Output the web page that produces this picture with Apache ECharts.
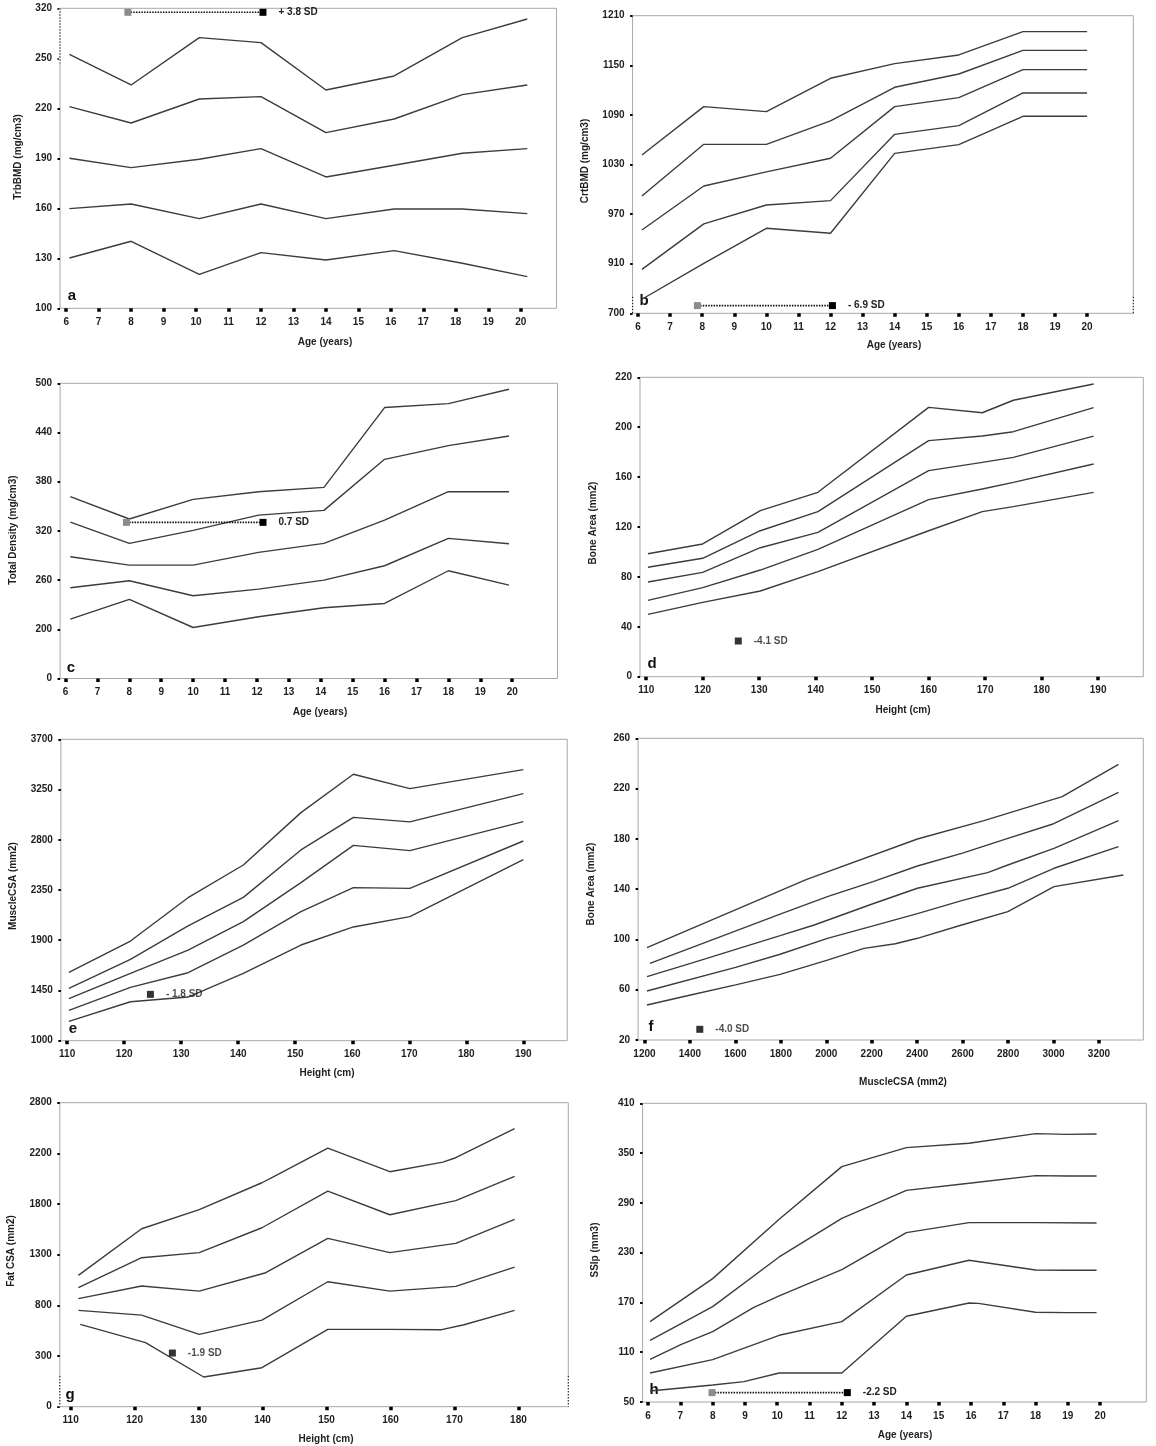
<!DOCTYPE html>
<html><head><meta charset="utf-8">
<script src="https://cdn.jsdelivr.net/npm/echarts@6/dist/echarts.min.js"></script>
<style>html,body{margin:0;padding:0;background:#fff}#c{width:1156px;height:1446px}</style>
</head><body><div id="c"></div>
<script>
// ---------- tick values / labels ----------
const ageTicks = [6,7,8,9,10,11,12,13,14,15,16,17,18,19,20];
const heightTicksDE = [110,120,130,140,150,160,170,180,190];
const heightTicksG = [110,120,130,140,150,160,170,180];
const muscleTicks = [1200,1400,1600,1800,2000,2200,2400,2600,2800,3000,3200];

const aYTicks = [100,130,160,190,220,250,280];
const aYLabels = ['100','130','160','190','220','250','320'];
const bYTicks = [850,910,970,1030,1090,1150,1210];
const bYLabels = ['700','910','970','1030','1090','1150','1210'];
const cYTicks = [140,200,260,320,380,440,500];
const cYLabels = ['0','200','260','320','380','440','500'];
const dYTicks = [0,40,80,120,160,200,240];
const dYLabels = ['0','40','80','120','160','200','220'];
const eYTicks = [1000,1450,1900,2350,2800,3250,3700];
const eYLabels = ['1000','1450','1900','2350','2800','3250','3700'];
const fYTicks = [20,60,100,140,180,220,260];
const fYLabels = ['20','60','100','140','180','220','260'];
const gYTicks = [-200,300,800,1300,1800,2300,2800];
const gYLabels = ['0','300','800','1300','1800','2200','2800'];
const hYTicks = [50,110,170,230,290,350,410];
const hYLabels = ['50','110','170','230','290','350','410'];

// ---------- panel a : TrbBMD vs age ----------
const aX  = [6.1, 8.0, 10.1, 12.0, 14.0, 16.1, 18.2, 20.2];
const aC1 = [252.4, 234, 262.4, 259.4, 231, 239.4, 262.4, 273.6];
const aC2 = [221, 211.2, 225.6, 227, 205.4, 213.6, 228.2, 234];
const aC3 = [190, 184.4, 189.4, 195.8, 178.8, 185.8, 193, 195.8];
const aC4 = [159.8, 162.6, 153.8, 162.6, 153.8, 159.6, 159.6, 156.8];
const aC5 = [130.2, 140.2, 120.4, 133.4, 129, 134.6, 127, 119];
const aSD = [[7.9, 277.6], [12.06, 277.6]];
const aSDText = '+ 3.8 SD';

// ---------- panel b : CrtBMD vs age ----------
const bX  = [6.12, 8.05, 10.0, 12.0, 14.0, 16.0, 18.0, 20.0];
const bC1 = [1041.5, 1100, 1094, 1134.3, 1152, 1162.5, 1190.7, 1190.7];
const bC2 = [991.9, 1054.4, 1054.4, 1082.7, 1123.4, 1139.5, 1168.1, 1168.1];
const bC3 = [950.8, 1004, 1021, 1037.5, 1100, 1110.9, 1144.8, 1144.8];
const bC4 = [903.2, 958.1, 981, 986.3, 1066.5, 1077, 1116.5, 1116.5];
const bC5 = [867, 910.5, 952.8, 946.8, 1043.5, 1054, 1088.3, 1088.3];
const bSD = [[7.85, 859.3], [12.06, 859.3]];
const bSDText = '- 6.9 SD';

// ---------- panel c : total density vs age ----------
const cX  = [6.15, 8.0, 10.0, 12.05, 14.1, 16.0, 18.0, 19.9];
const cC1 = [361.7, 334.5, 358.5, 367.8, 373.1, 470.4, 475.2, 492.7];
const cC2 = [330.8, 304.8, 320.6, 339.3, 345, 407.3, 424, 435.8];
const cC3 = [288.5, 278.3, 278.3, 293.8, 304.8, 333.2, 367.8, 367.8];
const cC4 = [250.7, 259.2, 240.9, 249, 260, 277.5, 310.9, 304.4];
const cC5 = [212.4, 236.4, 202.2, 215.3, 226.2, 231.5, 271.4, 253.9];
const cSD = [[7.91, 330.4], [12.19, 330.4]];
const cSDText = '0.7 SD';

// ---------- panel d : bone area vs height ----------
const dX  = [110.3, 120.0, 130.2, 140.4, 160.0, 169.5, 175.0, 189.2];
const dC1 = [98.6, 106.4, 133.1, 147.8, 215.9, 211.6, 221.6, 234.6];
const dC2 = [87.7, 94.9, 117, 132.3, 189.2, 192.9, 196.4, 215.7];
const dC3 = [75.9, 83.6, 103.4, 115.7, 165.2, 171.8, 175.8, 192.9];
const dC4 = [61.2, 71.4, 85.5, 102.1, 141.9, 150.5, 155.8, 170.5];
const dC5 = [50, 59.6, 68.7, 84.2, 117, 132.3, 136.3, 147.8];
const dSD = [[126.3, 28.6]];
const dSDText = '-4.1 SD';

// ---------- panel e : muscle CSA vs height ----------
const eX  = [110.3, 121.1, 131.2, 140.9, 151.0, 160.2, 170.1, 190.0];
const eC1 = [1612, 1893, 2281, 2574, 3043, 3387, 3258, 3428];
const eC2 = [1469, 1729, 2028, 2284, 2709, 3001, 2960, 3213];
const eC3 = [1376, 1603, 1812, 2066, 2416, 2750, 2703, 2962];
const eC4 = [1272, 1478, 1609, 1857, 2156, 2371, 2365, 2789];
const eC5 = [1173, 1349, 1391, 1603, 1857, 2019, 2111, 2622];
const eSD = [[124.6, 1415]];
const eSDText = '- 1.8 SD';

// ---------- panel f : bone area vs muscle CSA ----------
const fX1 = [1211, 1914, 2401, 2694, 3038, 3286];
const fC1 = [93.5, 147.8, 179.9, 194.5, 213.6, 239.3];
const fX2 = [1224, 1797, 2005, 2206, 2401, 2596, 2799, 2994, 3286];
const fC2 = [81, 120.2, 134, 146, 158.4, 168.5, 180.4, 191.6, 217];
const fX3 = [1211, 1403, 1797, 1947, 2202, 2401, 2710, 2799, 3002, 3286];
const fC3 = [70.4, 81, 103, 111.5, 128.2, 140.7, 153.1, 159.2, 172.5, 194.5];
const fX4 = [1211, 1601, 1797, 2005, 2202, 2401, 2596, 2799, 3002, 3286];
const fC4 = [59, 77.8, 88.2, 100.9, 110.6, 120.5, 130.9, 140.7, 156.6, 173.8];
const fX5 = [1211, 1403, 1601, 1797, 2005, 2166, 2304, 2401, 2596, 2799, 3002, 3307];
const fC5 = [47.8, 55.8, 63.8, 72.2, 83.6, 92.9, 96.6, 100.9, 111.5, 122.1, 142, 151.3];
const fSD = [[1443.5, 28.5]];
const fSDText = '-4.0 SD';

// ---------- panel g : fat CSA vs height ----------
const gX1 = [111.2, 121.1, 130.1, 139.9, 141.9, 150.2, 159.9, 168.2, 170.2, 179.4];
const gC1 = [1096, 1556, 1744, 2010, 2076, 2352, 2119, 2214, 2257, 2543];
const gX2 = [111.2, 121.1, 130.1, 139.9, 150.2, 159.9, 170.2, 179.4];
const gC2 = [974, 1270, 1320, 1566, 1928, 1694, 1833, 2073];
const gX3 = [111.2, 121.1, 130.1, 140.5, 150.2, 159.9, 170.2, 179.4];
const gC3 = [866, 991, 941, 1122, 1461, 1320, 1412, 1648];
const gX4 = [111.2, 121.1, 130.1, 139.9, 150.2, 159.9, 170.2, 179.4];
const gC4 = [751, 704, 514, 655, 1033, 941, 987, 1178];
const gX5 = [111.5, 121.7, 130.8, 139.9, 150.2, 159.9, 168.0, 171.5, 179.4];
const gC5 = [612, 432, 93, 185, 563, 563, 560, 609, 751];
const gSD = [[125.9, 329.6]];
const gSDText = '-1.9 SD';

// ---------- panel h : SSIp vs age ----------
const hX1 = [6.06, 8.0, 10.06, 12.0, 14.0, 15.94, 18.0, 18.97, 19.89];
const hC1 = [146.8, 198.7, 270.2, 333.7, 356.6, 361.8, 373.4, 372.6, 373];
const hX2 = [6.06, 8.0, 10.06, 12.0, 14.0, 15.94, 18.0, 18.97, 19.89];
const hC2 = [124.3, 164.9, 224.8, 271.4, 305.1, 313.6, 322.8, 322.4, 322.4];
const hX3 = [6.06, 7.03, 8.0, 9.26, 10.06, 12.0, 14.0, 15.94, 18.0, 19.89];
const hC3 = [101.4, 119.5, 134.8, 163.7, 177.8, 209.5, 254.1, 266.2, 266.2, 265.8];
const hX4 = [6.06, 8.0, 10.06, 12.0, 14.0, 15.94, 18.0, 18.97, 19.89];
const hC4 = [85, 101, 130.4, 146.8, 203.1, 220.8, 209.1, 208.7, 208.7];
const hX5 = [6.06, 8.0, 8.97, 10.06, 12.0, 14.0, 15.94, 16.23, 18.0, 18.97, 19.89];
const hC5 = [63.3, 70.5, 74.5, 85, 85, 153.3, 169.3, 168.9, 158.1, 157.7, 157.7];
const hSD = [[7.98, 61.3], [12.17, 61.3]];
const hSDText = '-2.2 SD';

// axis-break marks (y from, y to) at plot edges
const aBreakY = [280, 247];
const bBreakY = [870, 850];
const gBreakY = [102.6, -200];

// ---------- layout (pixels) ----------
const FONT = '"Liberation Sans", Arial, sans-serif';
const TXT = '#1e1e1e';
const LINE = '#3c3c3c';
const BORDER = '#a8a8a8';

const panels = [
  {letter:'a', l:60, t:8.3, r:556.5, b:308.3, xr:[5.81,21.1], xt:ageTicks, yt:aYTicks, yl:aYLabels,
   curves:[[aX,aC1],[aX,aC2],[aX,aC3],[aX,aC4],[aX,aC5]], sd:aSD, sdText:aSDText,
   xTitle:'Age (years)', xTitlePos:[325,342], yTitle:'TrbBMD (mg/cm3)', yTitlePos:[18,157], letterPos:[72,296],
   breaks:[{side:'l', y:aBreakY}]},
  {letter:'b', l:632.6, t:15.7, r:1133.3, b:313.3, xr:[5.83,21.44], xt:ageTicks, yt:bYTicks, yl:bYLabels,
   curves:[[bX,bC1],[bX,bC2],[bX,bC3],[bX,bC4],[bX,bC5]], sd:bSD, sdText:bSDText,
   xTitle:'Age (years)', xTitlePos:[894,345], yTitle:'CrtBMD (mg/cm3)', yTitlePos:[585,161], letterPos:[644,301],
   breaks:[{side:'l', y:bBreakY},{side:'r', y:bBreakY}]},
  {letter:'c', l:60.1, t:383.3, r:557.5, b:678.5, xr:[5.83,21.42], xt:ageTicks, yt:cYTicks, yl:cYLabels,
   curves:[[cX,cC1],[cX,cC2],[cX,cC3],[cX,cC4],[cX,cC5]], sd:cSD, sdText:cSDText,
   xTitle:'Age (years)', xTitlePos:[320,712], yTitle:'Total Density (mg/cm3)', yTitlePos:[13,530], letterPos:[71,668],
   breaks:[]},
  {letter:'d', l:640, t:377.3, r:1143.3, b:676.7, xr:[108.9,198], xt:heightTicksDE, yt:dYTicks, yl:dYLabels,
   curves:[[dX,dC1],[dX,dC2],[dX,dC3],[dX,dC4],[dX,dC5]], sd:dSD, sdText:dSDText,
   xTitle:'Height (cm)', xTitlePos:[903,710], yTitle:'Bone Area (mm2)', yTitlePos:[593,523], letterPos:[652,664],
   breaks:[]},
  {letter:'e', l:60.9, t:739.3, r:567.2, b:1040.7, xr:[108.9,197.7], xt:heightTicksDE, yt:eYTicks, yl:eYLabels,
   curves:[[eX,eC1],[eX,eC2],[eX,eC3],[eX,eC4],[eX,eC5]], sd:eSD, sdText:eSDText,
   xTitle:'Height (cm)', xTitlePos:[327,1073], yTitle:'MuscleCSA (mm2)', yTitlePos:[13,886], letterPos:[73,1029],
   breaks:[]},
  {letter:'f', l:638.1, t:738.3, r:1143.3, b:1040, xr:[1172,3395], xt:muscleTicks, yt:fYTicks, yl:fYLabels,
   curves:[[fX1,fC1],[fX2,fC2],[fX3,fC3],[fX4,fC4],[fX5,fC5]], sd:fSD, sdText:fSDText,
   xTitle:'MuscleCSA (mm2)', xTitlePos:[903,1082], yTitle:'Bone Area (mm2)', yTitlePos:[591,884], letterPos:[651,1027],
   breaks:[]},
  {letter:'g', l:59.8, t:1102.7, r:568.3, b:1406.7, xr:[108.3,187.8], xt:heightTicksG, yt:gYTicks, yl:gYLabels,
   curves:[[gX1,gC1],[gX2,gC2],[gX3,gC3],[gX4,gC4],[gX5,gC5]], sd:gSD, sdText:gSDText,
   xTitle:'Height (cm)', xTitlePos:[326,1439], yTitle:'Fat CSA (mm2)', yTitlePos:[11,1251], letterPos:[70,1395],
   breaks:[{side:'l', y:gBreakY},{side:'r', y:gBreakY}]},
  {letter:'h', l:642.6, t:1103.3, r:1146.3, b:1402, xr:[5.83,21.43], xt:ageTicks, yt:hYTicks, yl:hYLabels,
   curves:[[hX1,hC1],[hX2,hC2],[hX3,hC3],[hX4,hC4],[hX5,hC5]], sd:hSD, sdText:hSDText,
   xTitle:'Age (years)', xTitlePos:[905,1435], yTitle:'SSIp (mm3)', yTitlePos:[595,1250], letterPos:[654,1390],
   breaks:[]}
];

const grid = [], xAxis = [], yAxis = [], series = [], graphic = [];
const lblStyle = {fontFamily: FONT, fontWeight: 'bold', fontSize: 10, color: TXT};

panels.forEach((p, i) => {
  grid.push({left: p.l, top: p.t, width: p.r - p.l, height: p.b - p.t,
    show: true, borderColor: BORDER, borderWidth: 1, backgroundColor: 'transparent',
    containLabel: false, outerBoundsMode: 'none'});
  xAxis.push({type: 'value', gridIndex: i, min: p.xr[0], max: p.xr[1], position: 'bottom',
    axisLine: {show: false, onZero: false}, splitLine: {show: false},
    axisTick: {show: true, customValues: p.xt, length: 3.5, inside: false, lineStyle: {color: '#000', width: 3.5}},
    axisLabel: Object.assign({show: true, customValues: p.xt, margin: 9, formatter: v => String(v)}, lblStyle)});
  const yl = p.yl, yt = p.yt;
  yAxis.push({type: 'value', gridIndex: i, min: yt[0], max: yt[yt.length - 1], position: 'left',
    axisLine: {show: false, onZero: false}, splitLine: {show: false},
    axisTick: {show: true, customValues: yt, length: 2.5, lineStyle: {color: '#000', width: 2}},
    axisLabel: Object.assign({show: true, customValues: yt, margin: 8,
      formatter: v => { const k = yt.findIndex(t => Math.abs(t - v) < 1e-6); return k >= 0 ? yl[k] : ''; }}, lblStyle)});

  p.curves.forEach(c => {
    series.push({type: 'line', xAxisIndex: i, yAxisIndex: i, data: c[0].map((x, k) => [x, c[1][k]]),
      showSymbol: false, symbol: 'none', silent: true, animation: false,
      lineStyle: {color: LINE, width: 1.4}});
  });

  // axis-break marks
  p.breaks.forEach(br => {
    const x = br.side === 'l' ? p.xr[0] : p.xr[1];
    const d = [[x, br.y[0]], [x, br.y[1]]];
    series.push({type: 'line', xAxisIndex: i, yAxisIndex: i, data: d, symbol: 'none', clip: false,
      silent: true, animation: false, lineStyle: {color: '#fff', width: 2.5}, z: 3});
    series.push({type: 'line', xAxisIndex: i, yAxisIndex: i, data: d, symbol: 'none', clip: false,
      silent: true, animation: false, lineStyle: {color: '#222', width: 1.2, type: [1.5, 1.5]}, z: 4});
  });

  // patient marker(s)
  const sdLabel = Object.assign({show: true, position: 'right', distance: 12, formatter: p.sdText}, lblStyle);
  if (p.sd.length === 2) {
    series.push({type: 'line', xAxisIndex: i, yAxisIndex: i, symbol: 'rect', symbolSize: 7, showSymbol: true,
      clip: false, silent: true, animation: false, z: 5,
      lineStyle: {color: '#111', width: 1.6, type: [1.5, 1.2]},
      data: [
        {value: p.sd[0], itemStyle: {color: '#8c8c8c'}},
        {value: p.sd[1], itemStyle: {color: '#000'}, label: sdLabel}
      ]});
  } else {
    series.push({type: 'scatter', xAxisIndex: i, yAxisIndex: i, symbol: 'rect', symbolSize: 7,
      silent: true, animation: false, z: 5, itemStyle: {color: '#000'},
      data: [{value: p.sd[0], label: sdLabel}]});
  }

  graphic.push({type: 'text', x: p.xTitlePos[0], y: p.xTitlePos[1],
    style: {text: p.xTitle, font: 'bold 10px ' + FONT, fill: TXT, align: 'center', verticalAlign: 'middle'}});
  graphic.push({type: 'text', x: p.yTitlePos[0], y: p.yTitlePos[1], rotation: Math.PI / 2,
    style: {text: p.yTitle, font: 'bold 10px ' + FONT, fill: TXT, align: 'center', verticalAlign: 'middle'}});
  graphic.push({type: 'text', x: p.letterPos[0], y: p.letterPos[1],
    style: {text: p.letter, font: 'bold 15px ' + FONT, fill: '#111', align: 'center', verticalAlign: 'middle'}});
});

const chart = echarts.init(document.getElementById('c'), null, {renderer: 'canvas', width: 1156, height: 1446});
chart.setOption({backgroundColor: '#fff', animation: false, grid, xAxis, yAxis, series, graphic});
</script></body></html>
